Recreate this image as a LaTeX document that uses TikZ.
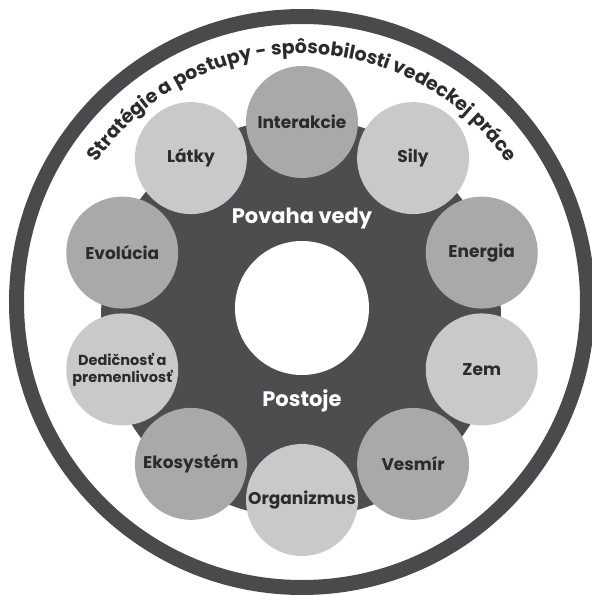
\documentclass[tikz,border=0pt]{standalone}
\usepackage{fontspec}
\setmainfont{Poppins}
\usetikzlibrary{decorations.text}
\definecolor{ringgray}{HTML}{4A4A4C}
\definecolor{discgray}{HTML}{4D4D4F}
\definecolor{midball}{HTML}{A9A9A9}
\definecolor{paleball}{HTML}{C9C9C9}
\definecolor{inkgray}{HTML}{2B2B2B}
\tikzset{
  topic/.style={circle, minimum size=112pt, inner sep=0pt, text=inkgray,
    font=\bfseries\fontsize{17}{17}\selectfont},
  topicA/.style={topic, fill=midball},
  topicB/.style={topic, fill=paleball},
  core/.style={text=white, font=\bfseries\fontsize{21}{21}\selectfont}
}
\begin{document}
\begin{tikzpicture}[x=1pt,y=1pt]
        \useasboundingbox (-302,-293) rectangle (290,302);
        \draw[ringgray, line width=15pt] (0,0) circle (285.5pt);
        \fill[discgray] (-1,-16) circle (200pt);
        \fill[white] (0,-6) circle (67pt);
        \path[decorate, decoration={text along path, text align=center,
            text={|\bfseries\fontsize{19}{19}\selectfont\color{inkgray}|Stratégie a postupy - spôsobilosti vedeckej práce}}]
            (160:248) arc[start angle=160, end angle=20, radius=248pt];
        \node[core] (povaha) at (0,83) {Povaha vedy};
        \node[core] (postoje) at (0,-99) {Postoje};
        \begin{scope}[shift={(0,-9)}]
            \node[topicA] (interakcie) at (90:189) {Interakcie};
            \node[topicB] (latky) at (126:189) {Látky};
            \node[topicA] (evolucia) at (162:189) {Evolúcia};
            \node[topicB, align=center, font=\bfseries\fontsize{14.5}{17}\selectfont] (dedicnost) at (198:189) {Dedičnosť a\\premenlivosť};
            \node[topicA] (ekosystem) at (234:189) {Ekosystém};
            \node[topicB] (organizmus) at (270:189) {Organizmus};
            \node[topicA] (vesmir) at (306:189) {Vesmír};
            \node[topicB] (zem) at (342:189) {Zem};
            \node[topicA] (energia) at (18:189) {Energia};
            \node[topicB] (sily) at (54:189) {Sily};
        \end{scope}
    \end{tikzpicture}
\end{document}
